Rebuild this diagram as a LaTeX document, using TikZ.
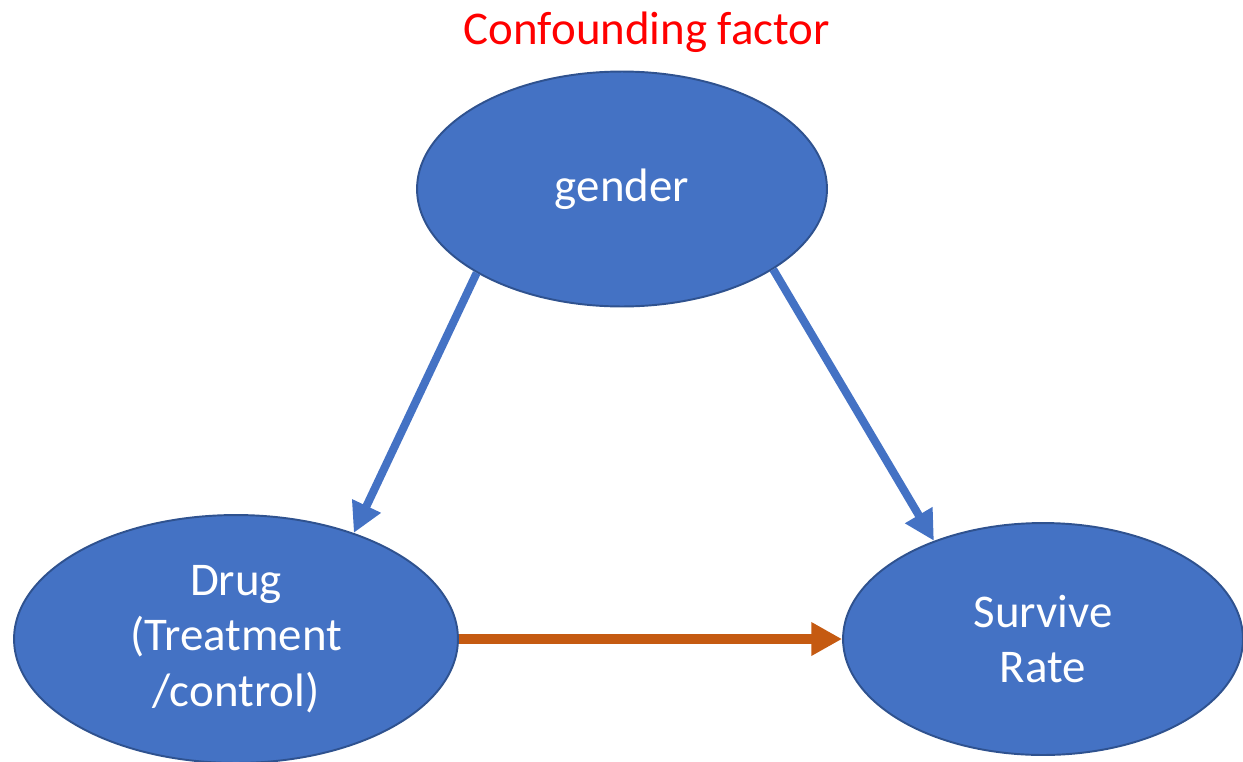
\documentclass[tikz,border=0pt]{standalone}
\usepackage{fontspec}
\setmainfont{Carlito}
\usetikzlibrary{arrows.meta,shapes.geometric}

\definecolor{nodeblue}{HTML}{4472C4}
\definecolor{nodeedge}{HTML}{2F528F}
\definecolor{causeorange}{HTML}{C55A11}

\tikzset{
  x=0.02cm, y=-0.02cm, % one unit is one pixel of the slide
  factor/.style={ellipse, draw=nodeedge, line width=1.1pt, fill=nodeblue,
    text=white, align=center, inner sep=0pt,
    font=\fontsize{26.7}{31.5}\selectfont},
  confound/.style={line width=4.6pt, draw=nodeblue,
    -{Triangle[length=17pt,width=17pt]}}, % the blue edges
  effect/.style={line width=5.2pt, draw=causeorange,
    -{Triangle[length=17.5pt,width=18pt]}}, % the orange edge
}

\begin{document}
\begin{tikzpicture}
    \useasboundingbox (0,0) rectangle (1243,761);
    \node[text=red, font=\fontsize{26.7}{31.5}\selectfont] (title) at (647,32) {Confounding factor};
    \node[factor, minimum width=8.2cm, minimum height=4.7cm] (gender) at (622,189) {gender};
    \node[factor, minimum width=8.88cm, minimum height=4.96cm] (drug) at (236,639) {Drug\\(Treatment\\/control)};
    \node[factor, minimum width=8cm, minimum height=4.64cm] (survive) at (1043,639) {Survive\\Rate};
    \draw   (gender.210) edge[confound] (drug.42)
            (gender.332) edge[confound] (survive.138)
            (drug.east) edge[effect] (survive.west);
\end{tikzpicture}
\end{document}
